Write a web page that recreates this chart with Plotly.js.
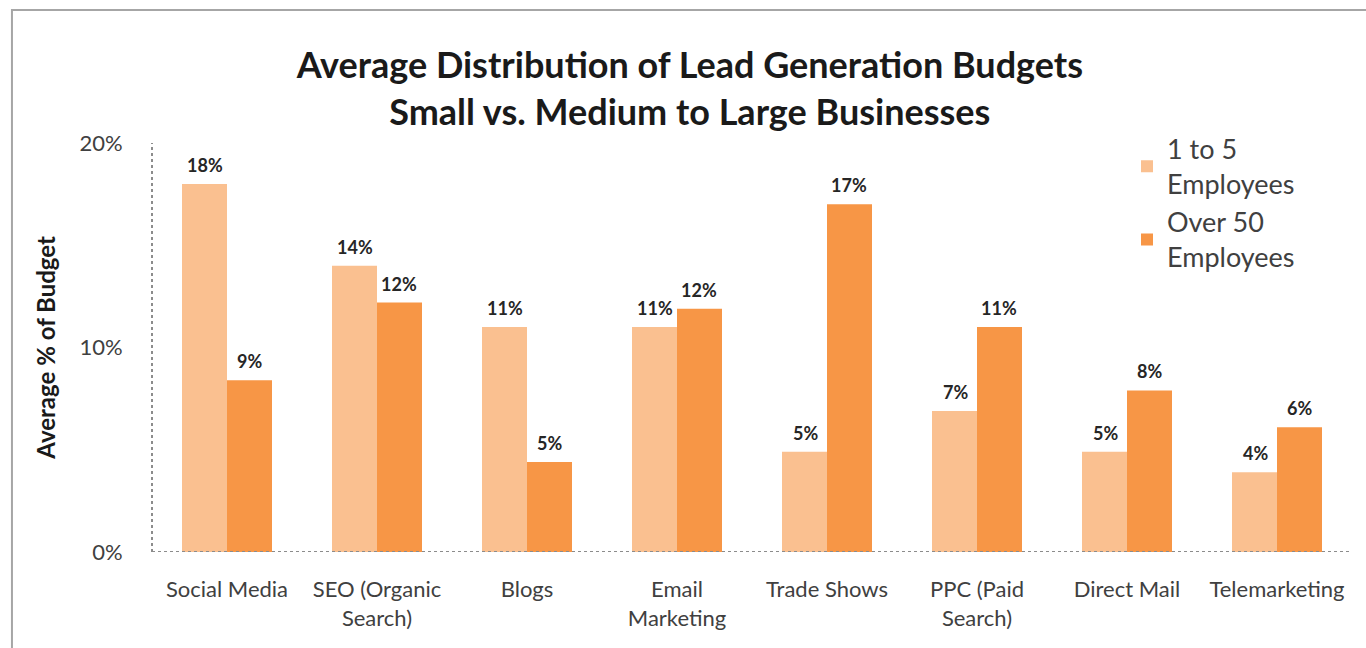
<!DOCTYPE html>
<html>
<head>
<meta charset="utf-8">
<script src="https://cdn.plot.ly/plotly-3.0.1.min.js"></script>
<style>html,body{margin:0;padding:0;background:#fff;}#chart{width:1366px;height:648px;}</style>
</head>
<body>
<div id="chart"></div>
<script>
const categories = ["Social Media", "SEO (Organic<br>Search)", "Blogs", "Email<br>Marketing", "Trade Shows", "PPC (Paid<br>Search)", "Direct Mail", "Telemarketing"];
const smallValues = [18, 14, 11, 11, 4.9, 6.9, 4.9, 3.9];
const largeValues = [8.4, 12.2, 4.4, 11.9, 17, 11, 7.9, 6.1];
const smallLabels = ["18%", "14%", "11%", "11%", "5%", "7%", "5%", "4%"];
const largeLabels = ["9%", "12%", "5%", "12%", "17%", "11%", "8%", "6%"];
const seriesNames = ["1 to 5<br>Employees", "Over 50<br>Employees"];
const yTicks = [0, 10, 20];
const yTickText = ["0%", "10%", "20%"];

const FONT = "Lato, 'Open Sans', sans-serif";
const traces = [
  {type: "bar", name: seriesNames[0], x: categories, y: smallValues, marker: {color: "#FAC090"}, hoverinfo: "skip"},
  {type: "bar", name: seriesNames[1], x: categories, y: largeValues, marker: {color: "#F79646"}, hoverinfo: "skip"}
];

const annotations = [];
categories.forEach((c, i) => {
  annotations.push({x: c, y: smallValues[i], xref: "x", yref: "y", text: smallLabels[i], showarrow: false,
    xshift: -22, yshift: 6, yanchor: "bottom", font: {family: FONT, size: 18, color: "#262626", weight: "bold"}});
  annotations.push({x: c, y: largeValues[i], xref: "x", yref: "y", text: largeLabels[i], showarrow: false,
    xshift: 22, yshift: 6, yanchor: "bottom", font: {family: FONT, size: 18, color: "#262626", weight: "bold"}});
});
annotations.push({xref: "paper", yref: "paper", x: -0.089, y: 0.5, xanchor: "center", yanchor: "middle",
  text: "<b>Average % of Budget</b>", textangle: -90, showarrow: false,
  font: {family: FONT, size: 24, color: "#1a1a1a"}});

const layout = {
  width: 1366, height: 648,
  margin: {l: 152, r: 14, t: 143, b: 96},
  paper_bgcolor: "#fff", plot_bgcolor: "#fff",
  font: {family: FONT, color: "#404040"},
  title: {text: "<b>Average Distribution of Lead Generation Budgets<br>Small vs. Medium to Large Businesses</b>",
    x: 0.505, xanchor: "center", y: 0.879, yanchor: "middle", yref: "container",
    font: {family: FONT, size: 36, color: "#1a1a1a"}},
  barmode: "group", bargap: 0.4, bargroupgap: 0,
  xaxis: {type: "category", showline: false, showgrid: false, zeroline: false,
    ticks: "outside", ticklen: 18, tickcolor: "rgba(0,0,0,0)",
    tickfont: {family: FONT, size: 22, color: "#404040"}, fixedrange: true},
  yaxis: {range: [0, 20], tickvals: yTicks, ticktext: yTickText, showgrid: false, zeroline: false, showline: false,
    ticks: "outside", ticklen: 24, tickcolor: "rgba(0,0,0,0)",
    tickfont: {family: FONT, size: 22, color: "#404040"}, fixedrange: true},
  showlegend: true,
  legend: {x: 0.8125, y: 1.045, xanchor: "left", yanchor: "top", bgcolor: "rgba(0,0,0,0)",
    font: {family: FONT, size: 27, color: "#404040"}, tracegroupgap: 2, itemwidth: 30},
  annotations: annotations,
  shapes: [
    {type: "line", xref: "paper", yref: "y", x0: 0, x1: 0, y0: 0, y1: 20, line: {color: "#8c8c8c", width: 2, dash: "dot"}, layer: "above"},
    {type: "line", xref: "paper", yref: "y", x0: 0, x1: 1, y0: 0, y1: 0, line: {color: "#8c8c8c", width: 2, dash: "dot"}, layer: "above"},
    {type: "rect", xref: "paper", yref: "paper", x0: -0.1167, x1: 1.05, y0: -0.4, y1: 1.325, line: {color: "#a6a6a6", width: 2}, layer: "below"}
  ]
};

Plotly.newPlot("chart", traces, layout, {displayModeBar: false, staticPlot: true});
</script>
</body>
</html>
